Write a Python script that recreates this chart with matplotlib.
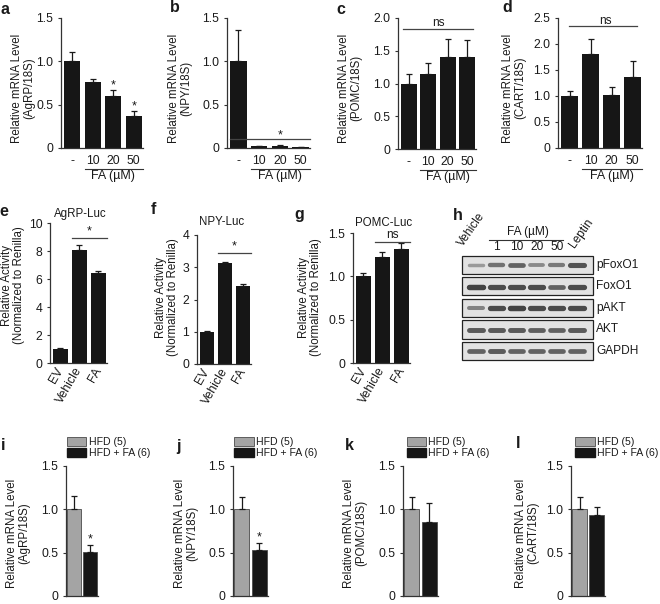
import matplotlib
matplotlib.use("Agg")
import matplotlib.pyplot as plt
from matplotlib.patches import Patch, Rectangle

plt.rcParams['font.family'] = ['Liberation Sans', 'DejaVu Sans']
plt.rcParams['text.color'] = '#1a1a1a'

W, H = 660, 604

# ---------------- data ----------------
dose_labels = ["-", "10", "20", "50"]
agrp_mrna = [1.0, 0.76, 0.60, 0.37]
agrp_mrna_err = [0.11, 0.04, 0.07, 0.06]
npy_mrna = [1.0, 0.02, 0.025, 0.012]
npy_mrna_err = [0.36, 0.004, 0.005, 0.003]
pomc_mrna = [1.0, 1.15, 1.41, 1.41]
pomc_mrna_err = [0.15, 0.16, 0.27, 0.26]
cart_mrna = [1.0, 1.81, 1.02, 1.37]
cart_mrna_err = [0.10, 0.29, 0.15, 0.30]

luc_labels = ["EV", "Vehicle", "FA"]
agrp_luc = [1.0, 8.1, 6.45]
agrp_luc_err = [0.06, 0.35, 0.15]
npy_luc = [1.0, 3.12, 2.43]
npy_luc_err = [0.02, 0.03, 0.06]
pomc_luc = [1.0, 1.22, 1.31]
pomc_luc_err = [0.04, 0.06, 0.07]

blot_lanes = ["Vehicle", "1", "10", "20", "50", "Leptin"]
blot_rows = ["pFoxO1", "FoxO1", "pAKT", "AKT", "GAPDH"]
pfoxo1_band = [0.35, 0.6, 0.7, 0.45, 0.55, 0.8]
foxo1_band = [0.9, 0.85, 0.85, 0.85, 0.7, 0.85]
pakt_band = [0.5, 0.85, 0.9, 0.85, 0.85, 0.85]
akt_band = [0.75, 0.75, 0.75, 0.72, 0.7, 0.75]
gapdh_band = [0.7, 0.75, 0.7, 0.7, 0.7, 0.7]

hfd_labels = ["HFD (5)", "HFD + FA (6)"]
hfd_agrp = [1.0, 0.51]
hfd_agrp_err = [0.15, 0.08]
hfd_npy = [1.0, 0.53]
hfd_npy_err = [0.14, 0.08]
hfd_pomc = [1.0, 0.85]
hfd_pomc_err = [0.14, 0.22]
hfd_cart = [1.0, 0.93]
hfd_cart_err = [0.14, 0.10]

BLACK = '#161616'
GRAY = '#a4a4a4'
TICK_FS = 8.8
LAB_FS = 8.3

fig = plt.figure(figsize=(W / 100, H / 100), dpi=100)


def fx(x):
    return x / W


def fy(y):
    return 1 - y / H


def add_ax(left, top, right, bottom, ylim, yticks):
    ax = fig.add_axes([fx(left), fy(bottom), (right - left) / W, (bottom - top) / H])
    for s in ("top", "right"):
        ax.spines[s].set_visible(False)
    for s in ("left", "bottom"):
        ax.spines[s].set_color('#333333')
        ax.spines[s].set_linewidth(0.9)
    ax.set_ylim(*ylim)
    ax.set_yticks(yticks)
    ax.set_yticklabels(["0" if t == 0 else (f"{t:.1f}" if isinstance(t, float) else str(t)) for t in yticks])
    ax.tick_params(axis='y', direction='out', length=2.5, width=0.8, pad=3,
                   labelsize=TICK_FS, colors='#333333', labelcolor='#1a1a1a')
    ax.tick_params(axis='x', length=0, labelsize=TICK_FS, labelcolor='#1a1a1a')
    return ax


def bars(ax, vals, errs, colors, width=0.8, edge='none'):
    x = list(range(len(vals)))
    ax.bar(x, vals, width=width, color=colors, edgecolor=edge, linewidth=0.6)
    ax.errorbar(x, vals, yerr=[[0] * len(vals), errs], fmt='none', ecolor='#1a1a1a',
                elinewidth=0.9, capsize=2, capthick=0.9)
    ax.set_xlim(-0.55, len(vals) - 0.55)


def ylab(x, y, text):
    fig.text(fx(x), fy(y), text, rotation=90, ha='center', va='center',
             multialignment='center', fontsize=LAB_FS, linespacing=1.0)


def letter(x, y, s):
    fig.text(fx(x), fy(y), s, ha='center', va='center', fontsize=11.5, fontweight='bold')


def sig(ax, x0, x1, y, label, xt, yt):
    ax.plot([x0, x1], [y, y], color='#444444', lw=0.9, clip_on=False)
    ax.text(xt, yt, label, ha='center', va='center', fontsize=9 if label == '*' else 8.5)


def dose_axis(ax):
    ax.set_xticks(range(4))
    ax.set_xticklabels(dose_labels)
    ax.tick_params(axis='x', pad=5)
    tr = ax.get_xaxis_transform()
    ax.plot([0.6, 3.45], [-0.158, -0.158], color='#333333', lw=0.8, transform=tr, clip_on=False)
    ax.text(2.0, -0.215, "FA (\u00b5M)", transform=tr, ha='center', va='center', fontsize=9)


# ---------------- a ----------------
ax = add_ax(61, 18, 143, 148, (0, 1.5), [0, 0.5, 1.0, 1.5])
bars(ax, agrp_mrna, agrp_mrna_err, BLACK)
dose_axis(ax)
for i in (2, 3):
    ax.text(i, agrp_mrna[i] + agrp_mrna_err[i] + 0.05, '*', ha='center', va='center', fontsize=9)
letter(5, 10, 'a')
ylab(23, 88, "Relative mRNA Level\n(AgRP/18S)")

# ---------------- b ----------------
ax = add_ax(227, 18, 310, 148, (0, 1.5), [0, 0.5, 1.0, 1.5])
bars(ax, npy_mrna, npy_mrna_err, BLACK)
dose_axis(ax)
sig(ax, -0.4, 3.45, 0.1, '*', 2.0, 0.15)
letter(175, 8, 'b')
ylab(180, 88, "Relative mRNA Level\n(NPY/18S)")

# ---------------- c ----------------
ax = add_ax(398, 18, 476, 149, (0, 2.0), [0, 0.5, 1.0, 1.5, 2.0])
bars(ax, pomc_mrna, pomc_mrna_err, BLACK)
dose_axis(ax)
sig(ax, -0.3, 3.3, 1.83, 'ns', 1.5, 1.93)
letter(341, 10, 'c')
ylab(350, 88, "Relative mRNA Level\n(POMC/18S)")

# ---------------- d ----------------
ax = add_ax(558, 18, 642, 148, (0, 2.5), [0, 0.5, 1.0, 1.5, 2.0, 2.5])
bars(ax, cart_mrna, cart_mrna_err, BLACK)
dose_axis(ax)
sig(ax, -0.05, 3.2, 2.35, 'ns', 1.7, 2.45)
letter(507, 8, 'd')
ylab(514, 88, "Relative mRNA Level\n(CART/18S)")


# ---------------- e, f, g ----------------
def luc_axis(ax):
    ax.set_xticks(range(3))
    ax.set_xticklabels(luc_labels, rotation=60, ha='right', va='center', rotation_mode='anchor')
    ax.tick_params(axis='x', pad=4)


ax = add_ax(50, 223, 107, 363, (0, 10), [0, 2, 4, 6, 8, 10])
bars(ax, agrp_luc, agrp_luc_err, BLACK)
luc_axis(ax)
sig(ax, 0.6, 2.45, 8.9, '*', 1.5, 9.4)
fig.text(fx(80), fy(214), "AgRP-Luc", ha='center', va='center', fontsize=8.3)
letter(4, 212, 'e')
ylab(13, 285, "Relative Activity\n(Normalized to Renilla)")

ax = add_ax(197, 235, 251, 364, (0, 4), [0, 1, 2, 3, 4])
bars(ax, npy_luc, npy_luc_err, BLACK)
luc_axis(ax)
sig(ax, 0.6, 2.45, 3.45, '*', 1.5, 3.65)
fig.text(fx(222), fy(222), "NPY-Luc", ha='center', va='center', fontsize=8.3)
letter(153, 210, 'f')
ylab(167, 297, "Relative Activity\n(Normalized to Renilla)")

ax = add_ax(353, 233, 410, 363, (0, 1.5), [0, 0.5, 1.0, 1.5])
bars(ax, pomc_luc, pomc_luc_err, BLACK)
luc_axis(ax)
sig(ax, 0.6, 2.45, 1.4, 'ns', 1.5, 1.48)
fig.text(fx(384), fy(223), "POMC-Luc", ha='center', va='center', fontsize=8.3)
letter(299, 215, 'g')
ylab(310, 297, "Relative Activity\n(Normalized to Renilla)")

# ---------------- h (blot) ----------------
axh = fig.add_axes([fx(462), fy(364), (593 - 462) / W, (364 - 254) / H])
axh.set_xlim(-0.7, 5.8)
axh.set_ylim(4.6, -0.5)
axh.axis('off')
bands = [pfoxo1_band, foxo1_band, pakt_band, akt_band, gapdh_band]
for r, (name, row) in enumerate(zip(blot_rows, bands)):
    axh.add_patch(Rectangle((-0.7, r - 0.42), 6.5, 0.84, facecolor='#e2e2e2',
                            edgecolor='#222222', lw=0.9, clip_on=False))
    for i, v in enumerate(row):
        g = 0.82 - 0.62 * v
        axh.plot([i - 0.33, i + 0.33], [r + 0.02, r + 0.02], color=(g, g, g),
                 lw=1.6 + 2.6 * v, solid_capstyle='round', clip_on=False)
    axh.text(5.95, r, name, ha='left', va='center', fontsize=8.6)
axh.text(-0.55, -0.73, blot_lanes[0], rotation=55, ha='left', va='bottom',
         rotation_mode='anchor', fontsize=8.6)
axh.text(5.0, -0.69, blot_lanes[5], rotation=55, ha='left', va='bottom',
         rotation_mode='anchor', fontsize=8.6)
for i in range(1, 5):
    axh.text(i, -0.83, blot_lanes[i], ha='center', va='center', fontsize=8.6)
axh.plot([0.64, 4.31], [-1.15, -1.15], color='#333333', lw=0.8, clip_on=False)
axh.text(2.58, -1.52, "FA (\u00b5M)", ha='center', va='center', fontsize=8.6)
letter(458, 215, 'h')

# ---------------- i - l ----------------
hfd_panels = [
    (66, 98, hfd_agrp, hfd_agrp_err, "(AgRP/18S)", 'i', (3, 445), 18, 0.03, True),
    (233, 268, hfd_npy, hfd_npy_err, "(NPY/18S)", 'j', (178, 447), 186, 0.03, True),
    (403, 438, hfd_pomc, hfd_pomc_err, "(POMC/18S)", 'k', (349, 445), 355, 0.11, False),
    (571, 605, hfd_cart, hfd_cart_err, "(CART/18S)", 'l', (518, 444), 527, 0.12, False),
]
for left, right, vals, errs, gene, lt, lpos, ylx, legx, star in hfd_panels:
    ax = add_ax(left, 466, right, 596, (0, 1.5), [0, 0.5, 1.0, 1.5])
    bars(ax, vals, errs, [GRAY, BLACK], width=0.85, edge='#4a4a4a')
    ax.set_xlim(-0.5, 1.5)
    ax.set_xticks([])
    if star:
        ax.text(1, vals[1] + errs[1] + 0.06, '*', ha='center', va='center', fontsize=9)
    ax.legend(handles=[Patch(facecolor=GRAY, edgecolor='#4a4a4a', lw=0.6),
                       Patch(facecolor=BLACK, edgecolor=BLACK)],
              labels=hfd_labels, loc='lower left', bbox_to_anchor=(legx, 1.06),
              frameon=False, fontsize=7.6, handlelength=1.85, handleheight=0.8,
              handletextpad=0.2, labelspacing=0.1, borderpad=0, borderaxespad=0)
    letter(lpos[0], lpos[1], lt)
    ylab(ylx, 533, "Relative mRNA Level\n" + gene)

fig.savefig("out.png", dpi=100)
